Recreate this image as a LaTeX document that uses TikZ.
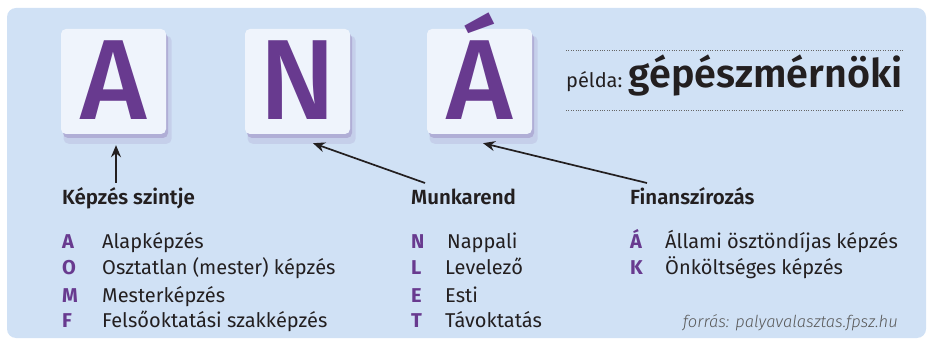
\documentclass[tikz,border=0pt]{standalone}
\usepackage{fontspec}
\setmainfont{Fira Sans}
\newfontfamily\medfont{Fira Sans Medium}
\newfontfamily\semifont{Fira Sans SemiBold}
\newfontfamily\lightfont{Fira Sans Light}
\usetikzlibrary{positioning,arrows.meta,shadows}

\definecolor{panelblue}{HTML}{D0E1F5}
\definecolor{boxwhite}{HTML}{EFF4FC}
\definecolor{codepurple}{HTML}{683A8F}
\definecolor{inkdark}{HTML}{231F20}

\tikzset{
  lettbox/.style={rounded corners=5pt, fill=boxwhite, minimum width=105pt, minimum height=105pt,
    inner sep=0pt, text height=76pt, text depth=0pt, text=codepurple,
    font=\medfont\fontsize{114}{114}\selectfont,
    general shadow={fill=codepurple, opacity=.10, shadow xshift=4pt, shadow yshift=-8pt, shadow scale=1.03},
    general shadow={fill=codepurple, opacity=.22, shadow xshift=2pt, shadow yshift=-4pt}},
  heading/.style={anchor=base west, inner sep=0pt, text=inkdark, font=\semifont\fontsize{20.5}{20.5}\selectfont},
  code/.style={anchor=base west, inner sep=0pt, text=codepurple, font=\bfseries\fontsize{20}{20}\selectfont},
  item/.style={anchor=base west, inner sep=0pt, text=inkdark, font=\fontsize{20}{20}\selectfont},
  arr/.style={-{Stealth[length=12pt,width=10pt]}, line width=1.7pt, draw=inkdark}
}

\begin{document}
\begin{tikzpicture}[x=1pt,y=-1pt]
\useasboundingbox (0,0) rectangle (927,339);
% background panel
\fill[panelblue, rounded corners=9pt] (7,8) rectangle (926,338);

% the three letter boxes
\node[lettbox] (boxA) at (113.5,81.5) {A};
\node[lettbox] (boxN) at (297.5,81.5) {N};
\node[lettbox] (boxAA) at (479.5,81.5) {Á};

% example
\draw[dotted, gray!80!black] (566,50) coordinate (dl1) -- (903,50) coordinate (dl2);
\draw[dotted, gray!80!black] (566,110) coordinate (dl3) -- (903,110) coordinate (dl4);
\node[anchor=base west, inner sep=0pt, text=inkdark, font=\fontsize{20}{20}\selectfont] (pelda) at (566,88) {példa:};
\node[anchor=base east, inner sep=0pt, text=inkdark, font=\semifont\fontsize{39.5}{39.5}\selectfont] (gepesz) at (903,88) {gépészmérnöki};

% headings
\node[heading] (hA) at (62,205) {Képzés szintje};
\node[heading] (hN) at (411,205) {Munkarend};
\node[heading] (hF) at (630,205) {Finanszírozás};

% arrows
\coordinate (tA) at (116,183);
\coordinate (tN) at (425,183);
\coordinate (tF) at (647,183);
\draw[arr] (tA) -- ([shift={(2.5,11)}]boxA.south);
\draw[arr] (tN) -- ([shift={(15.5,9)}]boxN.south);
\draw[arr] (tF) -- ([shift={(3.5,9)}]boxAA.south);

% képzés szintje
\node[code] (cA) at (62,249) {A};  \node[item] (iA) at (102,249) {Alapképzés};
\node[code] (cO) at (62,275) {O};  \node[item] (iO) at (102,275) {Osztatlan (mester) képzés};
\node[code] (cM) at (62,302) {M};  \node[item] (iM) at (102,302) {Mesterképzés};
\node[code] (cF) at (62,327) {F};  \node[item] (iF) at (102,327) {Felsőoktatási szakképzés};

% munkarend
\node[code] (cN) at (411,249) {N}; \node[item] (iN) at (447,249) {Nappali};
\node[code] (cL) at (411,275) {L}; \node[item] (iL) at (445,275) {Levelező};
\node[code] (cE) at (411,302) {E}; \node[item] (iE) at (445,302) {Esti};
\node[code] (cT) at (411,327) {T}; \node[item] (iT) at (445,327) {Távoktatás};

% finanszírozás
\node[code] (cAA) at (630,249) {Á}; \node[item] (iAA) at (665,249) {Állami ösztöndíjas képzés};
\node[code] (cK) at (630,275) {K};  \node[item] (iK) at (665,275) {Önköltséges képzés};

% source
\node[anchor=base east, inner sep=0pt, text=gray!70!black, font=\lightfont\itshape\fontsize{16.5}{16.5}\selectfont] (src) at (898,327) {forrás: palyavalasztas.fpsz.hu};
\end{tikzpicture}
\end{document}
